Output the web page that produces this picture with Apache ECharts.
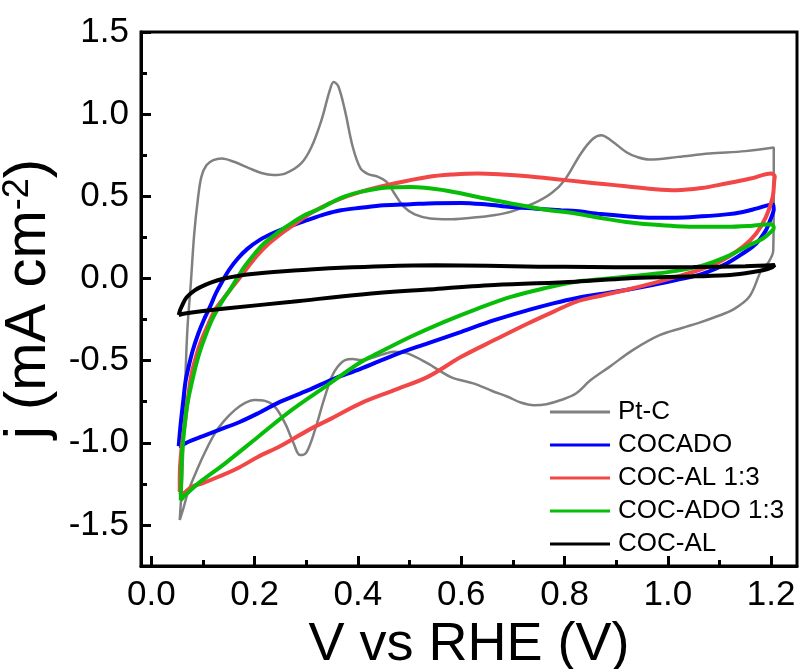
<!DOCTYPE html>
<html>
<head>
<meta charset="utf-8">
<script src="https://cdn.jsdelivr.net/npm/echarts@6/dist/echarts.min.js"></script>
<style>
  html, body { margin: 0; padding: 0; background: #fff; }
  #chart { width: 799px; height: 669px; }
</style>
</head>
<body>
<div id="chart"></div>
<script>
// Cyclic voltammograms: [potential (V vs RHE), current density (mA cm^-2)]
const seriesNames = ['Pt-C', 'COCADO', 'COC-AL 1:3', 'COC-ADO 1:3', 'COC-AL'];

const ptC = [
  [0.055,-1.47],[0.060,-1.20],[0.063,-0.90],[0.066,-0.60],[0.070,-0.30],[0.076,-0.05],[0.083,0.27],
  [0.090,0.48],[0.097,0.62],[0.107,0.69],[0.120,0.72],[0.136,0.73],[0.160,0.71],[0.190,0.67],
  [0.215,0.64],[0.236,0.63],[0.260,0.64],[0.290,0.70],[0.310,0.80],[0.330,0.97],[0.345,1.14],
  [0.353,1.196],[0.362,1.17],[0.375,1.02],[0.390,0.80],[0.405,0.67],[0.420,0.635],[0.438,0.62],
  [0.455,0.59],[0.470,0.52],[0.489,0.435],[0.510,0.39],[0.540,0.365],[0.574,0.36],[0.620,0.37],
  [0.663,0.385],[0.700,0.41],[0.741,0.458],[0.775,0.52],[0.800,0.598],[0.832,0.762],[0.855,0.85],
  [0.871,0.872],[0.890,0.84],[0.919,0.77],[0.940,0.74],[0.964,0.724],[1.020,0.74],[1.080,0.76],
  [1.150,0.775],[1.205,0.797],
  [1.205,0.50],[1.204,0.17],[1.195,0.10],[1.181,0.05],[1.158,-0.11],[1.126,-0.19],[1.093,-0.233],
  [1.060,-0.27],[1.029,-0.30],[0.984,-0.345],[0.932,-0.436],[0.887,-0.538],[0.850,-0.62],
  [0.822,-0.70],[0.793,-0.74],[0.765,-0.765],[0.741,-0.771],[0.715,-0.755],[0.690,-0.72],
  [0.660,-0.685],[0.625,-0.64],[0.580,-0.60],[0.535,-0.517],[0.496,-0.456],[0.470,-0.446],
  [0.455,-0.455],[0.438,-0.473],[0.420,-0.49],[0.405,-0.497],[0.390,-0.49],[0.375,-0.497],
  [0.360,-0.54],[0.349,-0.60],[0.333,-0.75],[0.317,-0.92],[0.300,-1.06],[0.288,-1.075],
  [0.275,-1.00],[0.259,-0.882],[0.239,-0.78],[0.220,-0.745],[0.200,-0.74],[0.180,-0.76],
  [0.162,-0.80],[0.140,-0.87],[0.123,-0.943],[0.105,-1.05],[0.091,-1.146],[0.072,-1.29],
  [0.062,-1.40],[0.055,-1.47]
];

const cocado = [
  [0.053,-1.02],[0.057,-0.88],[0.062,-0.74],[0.066,-0.63],[0.072,-0.54],[0.080,-0.44],[0.091,-0.335],
  [0.102,-0.25],[0.114,-0.17],[0.125,-0.09],[0.137,-0.02],[0.150,0.05],[0.167,0.12],[0.186,0.18],
  [0.210,0.235],[0.238,0.28],[0.270,0.32],[0.302,0.355],[0.335,0.39],[0.367,0.415],[0.405,0.43],
  [0.450,0.445],[0.502,0.452],[0.550,0.458],[0.600,0.46],[0.650,0.45],[0.696,0.435],[0.745,0.425],
  [0.793,0.415],[0.822,0.41],[0.870,0.392],[0.919,0.379],[0.970,0.37],[1.016,0.37],[1.065,0.378],
  [1.113,0.39],[1.145,0.405],[1.171,0.425],[1.203,0.452],
  [1.205,0.42],[1.203,0.395],[1.195,0.33],[1.190,0.294],[1.171,0.213],[1.145,0.152],[1.113,0.09],
  [1.068,0.03],[1.016,-0.01],[0.970,-0.04],[0.919,-0.07],[0.870,-0.095],[0.822,-0.12],[0.780,-0.15],
  [0.729,-0.193],[0.664,-0.254],[0.600,-0.325],[0.535,-0.395],[0.470,-0.466],[0.405,-0.55],
  [0.350,-0.615],[0.304,-0.68],[0.250,-0.75],[0.207,-0.82],[0.170,-0.875],[0.130,-0.923],
  [0.100,-0.96],[0.072,-0.994],[0.059,-1.015],[0.053,-1.02]
];

const cocAl13 = [
  [0.055,-1.30],[0.055,-1.21],[0.058,-1.05],[0.065,-0.88],[0.070,-0.75],[0.078,-0.578],[0.087,-0.47],
  [0.097,-0.375],[0.110,-0.28],[0.123,-0.193],[0.140,-0.12],[0.155,-0.06],[0.170,0.0],[0.186,0.065],
  [0.205,0.14],[0.225,0.205],[0.247,0.262],[0.270,0.314],[0.310,0.40],[0.354,0.47],[0.405,0.527],
  [0.470,0.578],[0.535,0.618],[0.585,0.633],[0.632,0.639],[0.680,0.633],[0.729,0.622],[0.780,0.606],
  [0.832,0.588],[0.875,0.575],[0.919,0.561],[0.970,0.545],[1.016,0.537],[1.065,0.55],[1.113,0.578],
  [1.160,0.608],[1.200,0.639],
  [1.207,0.62],[1.206,0.598],[1.203,0.496],[1.190,0.375],[1.171,0.274],[1.145,0.192],[1.106,0.111],
  [1.068,0.06],[1.016,0.01],[0.970,-0.03],[0.919,-0.07],[0.870,-0.105],[0.822,-0.142],[0.780,-0.20],
  [0.729,-0.274],[0.664,-0.375],[0.600,-0.477],[0.535,-0.599],[0.470,-0.68],[0.405,-0.76],
  [0.350,-0.85],[0.304,-0.923],[0.250,-1.02],[0.207,-1.085],[0.170,-1.15],[0.130,-1.207],
  [0.100,-1.245],[0.078,-1.268],[0.059,-1.31],[0.055,-1.30]
];

const cocAdo13 = [
  [0.057,-1.35],[0.058,-1.20],[0.059,-1.085],[0.065,-0.88],[0.070,-0.76],[0.078,-0.64],[0.087,-0.52],
  [0.097,-0.416],[0.117,-0.254],[0.135,-0.15],[0.154,-0.06],[0.180,0.07],[0.200,0.15],[0.218,0.213],
  [0.245,0.28],[0.270,0.334],[0.300,0.39],[0.330,0.43],[0.347,0.46],[0.375,0.50],[0.405,0.527],
  [0.457,0.553],[0.502,0.557],[0.567,0.537],[0.632,0.496],[0.696,0.456],[0.761,0.42],[0.822,0.395],
  [0.870,0.368],[0.919,0.344],[0.970,0.328],[1.016,0.318],[1.065,0.314],[1.113,0.314],[1.160,0.32],
  [1.200,0.33],
  [1.205,0.31],[1.203,0.294],[1.184,0.243],[1.158,0.203],[1.113,0.131],[1.068,0.08],[1.016,0.046],
  [0.970,0.027],[0.919,0.01],[0.870,-0.005],[0.822,-0.02],[0.761,-0.06],[0.696,-0.112],[0.632,-0.183],
  [0.567,-0.264],[0.502,-0.355],[0.438,-0.456],[0.405,-0.51],[0.336,-0.66],[0.272,-0.80],
  [0.207,-0.963],[0.143,-1.125],[0.091,-1.247],[0.062,-1.33],[0.057,-1.35]
];

const cocAl = [
  [0.053,-0.223],[0.056,-0.19],[0.060,-0.162],[0.066,-0.125],[0.073,-0.10],[0.084,-0.072],[0.096,-0.051],
  [0.115,-0.025],[0.141,0.0],[0.170,0.017],[0.205,0.03],[0.250,0.042],[0.302,0.053],[0.367,0.065],
  [0.450,0.075],[0.550,0.08],[0.650,0.078],[0.750,0.072],[0.850,0.07],[0.950,0.068],[1.050,0.07],
  [1.150,0.075],[1.207,0.082],
  [1.200,0.065],[1.184,0.05],[1.150,0.032],[1.113,0.02],[1.016,0.01],[0.919,0.0],[0.822,-0.02],
  [0.664,-0.04],[0.535,-0.067],[0.407,-0.097],[0.272,-0.142],[0.143,-0.183],[0.065,-0.213],[0.053,-0.223]
];

const xMajorTicks = [0, 0.2, 0.4, 0.6, 0.8, 1.0, 1.2];
const xMinorTicks = [0.1, 0.3, 0.5, 0.7, 0.9, 1.1];
const yMajorTicks = [-1.5, -1.0, -0.5, 0, 0.5, 1.0, 1.5];
const yMinorTicks = [-1.25, -0.75, -0.25, 0.25, 0.75, 1.25];

const FONT = 'Liberation Sans, Arial, sans-serif';
const colors = ['#808080', '#0000ff', '#f24747', '#08bd08', '#000000'];
const widths = [2.5, 4, 4, 4, 4];
const allData = [ptC, cocado, cocAl13, cocAdo13, cocAl];

const fmt = v => v.toFixed(1);

function majorAxis(extra) {
  return Object.assign({
    type: 'value',
    axisLine: { show: true, onZero: false, lineStyle: { color: '#000', width: 3 } },
    splitLine: { show: false }
  }, extra);
}

function minorAxis(extra) {
  return Object.assign({
    type: 'value',
    axisLine: { show: false, onZero: false },
    axisLabel: { show: false },
    splitLine: { show: false }
  }, extra);
}

const chart = echarts.init(document.getElementById('chart'), null, { renderer: 'canvas' });

chart.setOption({
  animation: false,
  backgroundColor: '#fff',
  grid: {
    left: 141, top: 32, width: 656, height: 534,
    containLabel: false, outerBoundsMode: 'none',
    show: true, borderColor: '#000', borderWidth: 3, backgroundColor: 'transparent'
  },
  xAxis: [
    majorAxis({
      min: -0.02, max: 1.25, position: 'bottom',
      axisTick: { show: true, inside: true, length: 10, lineStyle: { color: '#000', width: 3 }, customValues: xMajorTicks },
      axisLabel: { color: '#000', fontSize: 35, fontFamily: FONT, formatter: fmt, margin: 12, customValues: xMajorTicks },
      name: 'V vs RHE (V)', nameLocation: 'middle', nameGap: 38,
      nameTextStyle: { color: '#000', fontSize: 54, fontFamily: FONT }
    }),
    minorAxis({
      min: -0.02, max: 1.25, position: 'bottom',
      axisTick: { show: true, inside: true, length: 6, lineStyle: { color: '#000', width: 3 }, customValues: xMinorTicks }
    })
  ],
  yAxis: [
    majorAxis({
      min: -1.75, max: 1.5, position: 'left',
      axisTick: { show: true, inside: true, length: 10, lineStyle: { color: '#000', width: 3 }, customValues: yMajorTicks },
      axisLabel: { color: '#000', fontSize: 35, fontFamily: FONT, formatter: fmt, margin: 12, customValues: yMajorTicks },
      name: '{a|j (mA cm}{s|-2}{a|)}', nameLocation: 'middle', nameGap: 82, nameRotate: 90,
      nameTextStyle: {
        color: '#000', fontSize: 58, fontFamily: FONT,
        rich: {
          a: { color: '#000', fontSize: 58, fontFamily: FONT },
          s: { color: '#000', fontSize: 36, fontFamily: FONT, verticalAlign: 'top' }
        }
      }
    }),
    minorAxis({
      min: -1.75, max: 1.5, position: 'left',
      axisTick: { show: true, inside: true, length: 6, lineStyle: { color: '#000', width: 3 }, customValues: yMinorTicks }
    })
  ],
  legend: {
    orient: 'vertical', left: 550, top: 399, padding: 0,
    itemWidth: 60, itemHeight: 3, itemGap: 7, icon: 'rect',
    textStyle: { color: '#000', fontSize: 26, lineHeight: 26, fontFamily: FONT, padding: [0, 0, 0, 3] },
    data: seriesNames
  },
  series: seriesNames.map((name, i) => ({
    name: name,
    type: 'line',
    xAxisIndex: 0, yAxisIndex: 0,
    data: allData[i],
    showSymbol: false,
    smooth: 0.35,
    color: colors[i],
    lineStyle: { color: colors[i], width: widths[i] },
    emphasis: { disabled: true }
  }))
});
</script>
</body>
</html>
